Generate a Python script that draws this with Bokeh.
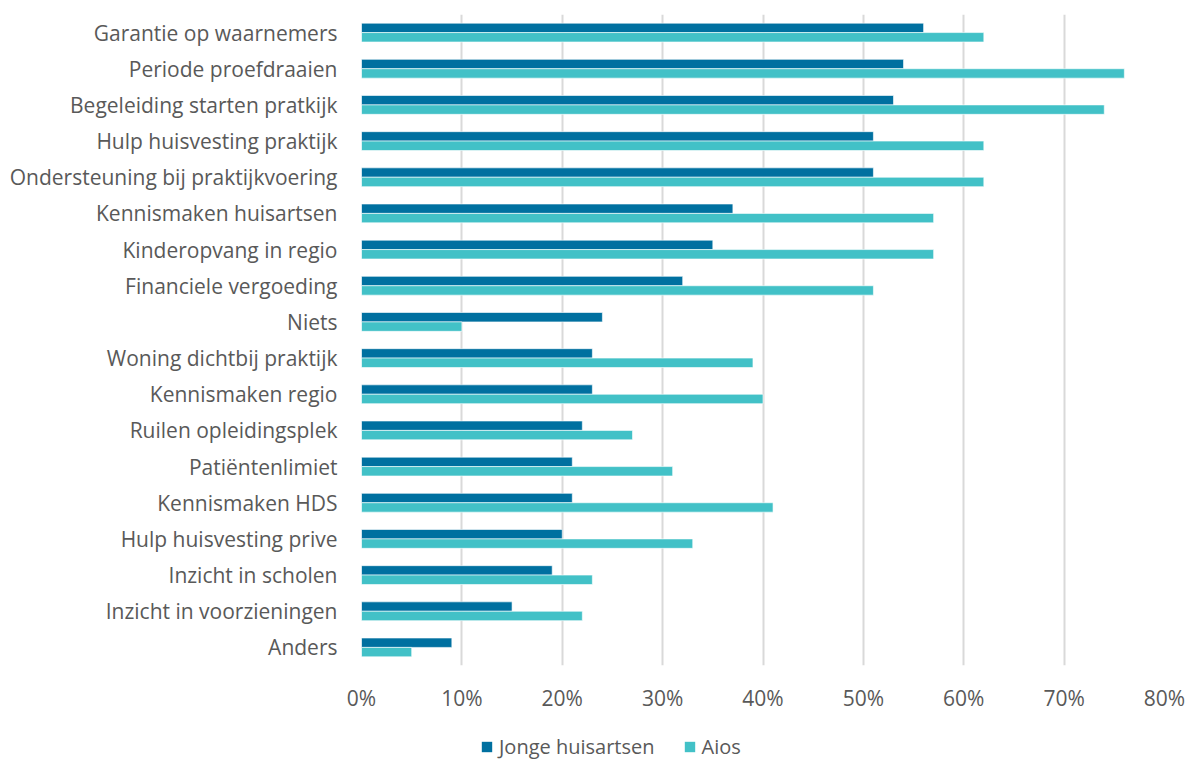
from bokeh.plotting import figure
from bokeh.layouts import column
from bokeh.models import ColumnDataSource, FactorRange, Range1d, Legend, LegendItem, NumeralTickFormatter, FixedTicker
from bokeh.transform import dodge
from bokeh.embed import file_html
from bokeh.resources import INLINE

categories = [
    "Garantie op waarnemers", "Periode proefdraaien", "Begeleiding starten pratkijk",
    "Hulp huisvesting praktijk", "Ondersteuning bij praktijkvoering", "Kennismaken huisartsen",
    "Kinderopvang in regio", "Financiele vergoeding", "Niets", "Woning dichtbij praktijk",
    "Kennismaken regio", "Ruilen opleidingsplek", "Patiëntenlimiet", "Kennismaken HDS",
    "Hulp huisvesting prive", "Inzicht in scholen", "Inzicht in voorzieningen", "Anders",
]
jonge_huisartsen = [0.56, 0.54, 0.53, 0.51, 0.51, 0.37, 0.35, 0.32, 0.24, 0.23, 0.23, 0.22, 0.21, 0.21, 0.20, 0.19, 0.15, 0.09]
aios = [0.62, 0.76, 0.74, 0.62, 0.62, 0.57, 0.57, 0.51, 0.10, 0.39, 0.40, 0.27, 0.31, 0.41, 0.33, 0.23, 0.22, 0.05]
series_names = ["Jonge huisartsen", "Aios"]
x_ticks = [0, 0.1, 0.2, 0.3, 0.4, 0.5, 0.6, 0.7, 0.8]

src = ColumnDataSource(dict(cat=categories, j=jonge_huisartsen, a=aios))

FONT = "Open Sans"
TXT = "#595959"
FS = "21px"
C_DARK = "#0070A0"
C_LIGHT = "#42C1C7"

p = figure(frame_width=803, frame_height=651, output_backend="svg", toolbar_location=None,
           y_range=FactorRange(factors=list(reversed(categories)), range_padding=0),
           x_range=Range1d(0, 0.8),
           min_border_left=361, min_border_right=24, min_border_top=14, min_border_bottom=47)
p.outline_line_color = None
p.background_fill_color = "white"
p.border_fill_color = "white"

p.hbar(y=dodge("cat", 0.13, range=p.y_range), right="j", left=0, height=0.26,
       source=src, fill_color=C_DARK, line_color="white", line_width=0.6)
p.hbar(y=dodge("cat", -0.13, range=p.y_range), right="a", left=0, height=0.26,
       source=src, fill_color=C_LIGHT, line_color="white", line_width=0.6)

p.xaxis.ticker = FixedTicker(ticks=x_ticks)
p.xaxis.formatter = NumeralTickFormatter(format="0%")
p.xgrid.ticker = FixedTicker(ticks=x_ticks)
p.xgrid.grid_line_color = "#d9d9d9"
p.xgrid.grid_line_width = 2
p.ygrid.grid_line_color = None

for ax in (p.xaxis, p.yaxis):
    ax.axis_line_color = None
    ax.major_tick_line_color = None
    ax.minor_tick_line_color = None
    ax.major_label_text_font = FONT
    ax.major_label_text_font_size = FS
    ax.major_label_text_color = TXT
p.xaxis.major_label_standoff = 12
p.yaxis.major_label_standoff = 18

# legend strip (frames of a column are aligned, so x is measured from x=361)
lf = figure(frame_width=803, frame_height=46, output_backend="svg", toolbar_location=None,
            x_range=Range1d(0, 1), y_range=Range1d(0, 1),
            x_axis_type=None, y_axis_type=None,
            min_border_left=361, min_border_right=24, min_border_top=0, min_border_bottom=0)
lf.outline_line_color = None
lf.grid.grid_line_color = None
hidden = ColumnDataSource(dict(y=[-5.0], r=[0.0]))
lr1 = lf.hbar(y="y", right="r", left=0, height=0.01, source=hidden, fill_color=C_DARK, line_color=None)
lr2 = lf.hbar(y="y", right="r", left=0, height=0.01, source=hidden, fill_color=C_LIGHT, line_color=None)

legend = Legend(items=[LegendItem(label=series_names[0], renderers=[lr1]),
                       LegendItem(label=series_names[1], renderers=[lr2])],
                orientation="horizontal", location=(119, 0),
                label_text_font=FONT, label_text_font_size="20px", label_text_color=TXT,
                glyph_width=13, glyph_height=13, spacing=28, padding=0,
                margin=0, border_line_color=None, background_fill_alpha=0,
                label_standoff=6)
lf.add_layout(legend, "center")

layout = column(p, lf, spacing=0)
open("out.html", "w").write(file_html(layout, INLINE))
